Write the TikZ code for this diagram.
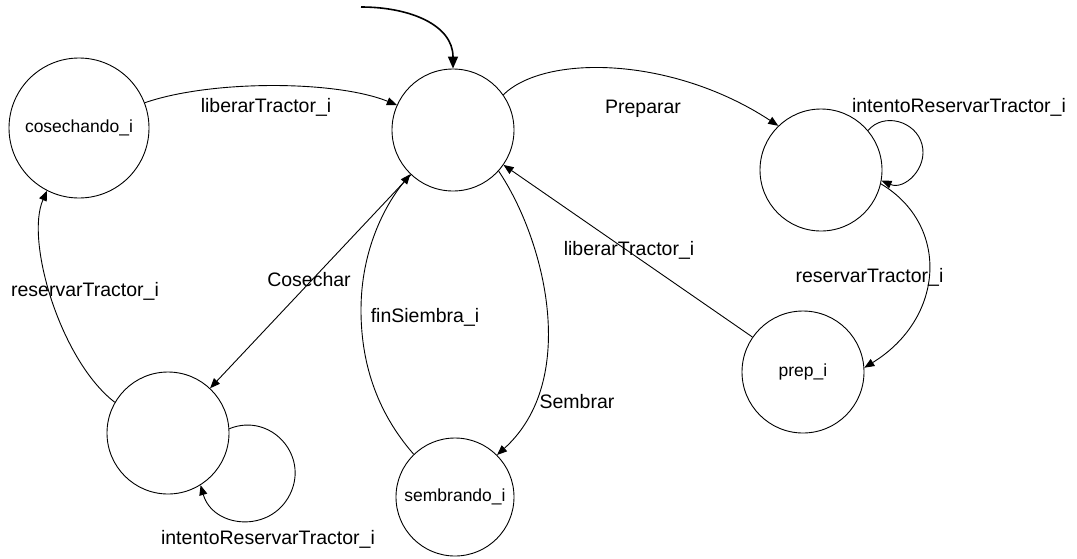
\documentclass[tikz,border=0pt]{standalone}
\usepackage{fontspec}
\setmainfont{Liberation Sans}
\usetikzlibrary{arrows.meta}
\begin{document}
\begin{tikzpicture}[x=1pt,y=-1pt,
  state/.style={circle,draw,line width=0.9pt,inner sep=0pt,font=\fontsize{17.5}{20}\selectfont},
  tr/.style={line width=0.9pt,-{Triangle[length=10pt,width=8pt]}},
  lbl/.style={font=\fontsize{19.5}{22}\selectfont,inner sep=0pt}]
\useasboundingbox (0,0) rectangle (1077,558);
\node[state,minimum size=140pt] (cos) at (79,128) {cosechando\_i};
\node[state,minimum size=122pt] (C) at (453,130) {};
\node[state,minimum size=122pt] (T) at (821,170) {};
\node[state,minimum size=122pt] (prep) at (803,372) {prep\_i};
\node[state,minimum size=118pt] (sem) at (455,497) {sembrando\_i};
\node[state,minimum size=122pt] (BL) at (168,433) {};
\coordinate (init) at (361,7);
\draw[line width=1.6pt,-{Triangle[length=12pt,width=10pt]}] (init) .. controls (410,7) and (453,25) .. (C.north);
\draw[tr] (cos.21.9) .. controls (210,80) and (335,80) .. (C.156.8);
\draw[tr] (C.35.3) .. controls (545,54) and (672,56) .. (T.134.4);
\draw[tr] (T.40) .. controls (883.4,112) and (915.8,120.8) .. (922,144.4) .. controls (928.2,168) and (904.5,190.4) .. (T.-10.9);
\draw[tr] (T.-13.9) .. controls (950,225) and (945,318) .. (prep.4.9);
\draw[tr] (prep) -- (C);
\draw[tr] (C.-42) .. controls (545,240) and (580,380) .. (sem.45.2);
\draw[tr] (sem.134.6) .. controls (375,410) and (361,360) .. (361,310) .. controls (361,250) and (385,205) .. (C.226.8);
\draw[tr] (C) -- (BL);
\draw[tr] (BL.150.7) .. controls (60,360) and (25,240) .. (cos.243.7);
\draw[tr] (BL.4.4) .. controls (270.2,412.1) and (309.5,454.9) .. (290,494.3) .. controls (270.5,533.7) and (213,528.3) .. (BL.-58.1);
\node[lbl] (l1) at (266,107) {liberarTractor\_i};
\node[lbl] (l2) at (643,109) {Preparar};
\node[lbl] (l3) at (959,107) {intentoReservarTractor\_i};
\node[lbl] (l4) at (869.5,277) {reservarTractor\_i};
\node[lbl] (l5) at (629,250) {liberarTractor\_i};
\node[lbl] (l6) at (577,402) {Sembrar};
\node[lbl] (l7) at (425,317) {finSiembra\_i};
\node[lbl] (l8) at (309,280) {Cosechar};
\node[lbl] (l9) at (85,291) {reservarTractor\_i};
\node[lbl] (l10) at (268,539) {intentoReservarTractor\_i};
\end{tikzpicture}
\end{document}
